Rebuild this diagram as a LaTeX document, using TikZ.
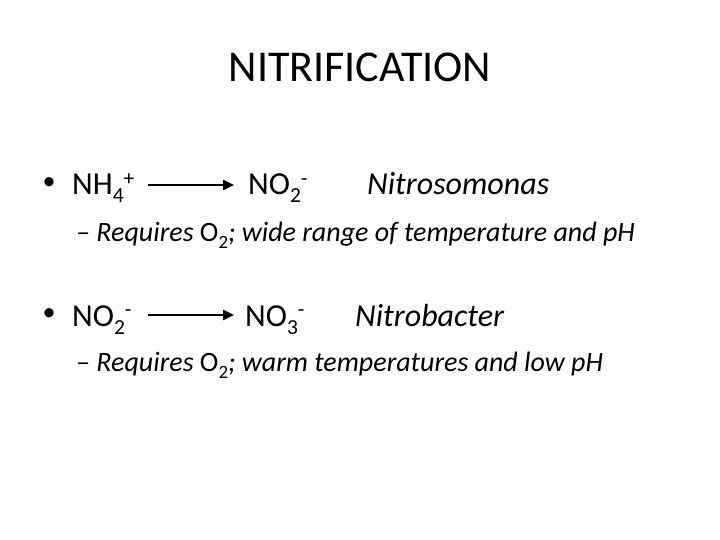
\documentclass[tikz,border=0pt]{standalone}
\usepackage{fontspec}
\setmainfont{Carlito}
\usetikzlibrary{arrows.meta}
\newcommand{\lowx}[1]{\raisebox{-0.25em}{\scalebox{0.67}{#1}}}
\newcommand{\highx}[1]{\raisebox{0.3em}{\scalebox{0.67}{#1}}}
\tikzset{
  txt/.style={anchor=base west, inner sep=0pt, font=\fontsize{32}{38}\selectfont},
  bul/.style={anchor=center, inner sep=0pt, font=\fontsize{26}{30}\selectfont},
  subtxt/.style={anchor=base west, inner sep=0pt, font=\fontsize{28}{34}\selectfont\itshape},
  rxn/.style={line width=2.4pt, -{Triangle[length=11pt,width=10pt]}}
}
\begin{document}
\begin{tikzpicture}[x=1pt,y=-1pt]
\useasboundingbox (0,0) rectangle (720,540);
\node[anchor=base, inner sep=0pt, font=\fontsize{44}{52}\selectfont] (title) at (360,82) {NITRIFICATION};
% line 1
\node[bul] (b1) at (49,184) {•};
\node[txt] (r1a) at (72,195) {NH\lowx{4}\highx{+}};
\node[txt] (r1b) at (248,195) {NO\lowx{2}\highx{-}};
\node[txt, font=\fontsize{32}{38}\selectfont\itshape] (org1) at (367,195) {Nitrosomonas};
\coordinate (a1s) at (148,185);
\coordinate (a1e) at (234,185);
\draw[rxn] (a1s) -- (a1e);
\node[subtxt] (s1) at (76,241) {– Requires {\upshape O\lowx{2}}; wide range of temperature and pH};
% line 2
\node[bul] (b2) at (49,315) {•};
\node[txt] (r2a) at (72,326) {NO\lowx{2}\highx{-}};
\node[txt] (r2b) at (245,326) {NO\lowx{3}\highx{-}};
\node[txt, font=\fontsize{32}{38}\selectfont\itshape] (org2) at (355,326) {Nitrobacter};
\coordinate (a2s) at (148,315);
\coordinate (a2e) at (234,315);
\draw[rxn] (a2s) -- (a2e);
\node[subtxt] (s2) at (76,371) {– Requires {\upshape O\lowx{2}}; warm temperatures and low pH};
\end{tikzpicture}
\end{document}
